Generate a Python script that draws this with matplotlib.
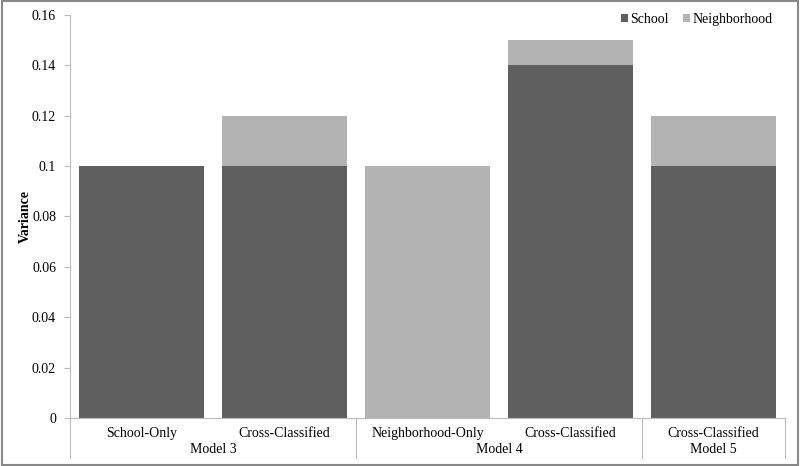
import matplotlib
matplotlib.use("Agg")
import matplotlib.pyplot as plt
from matplotlib.patches import Rectangle
from matplotlib.lines import Line2D

categories = ["School-Only", "Cross-Classified", "Neighborhood-Only", "Cross-Classified", "Cross-Classified"]
groups = ["Model 3", "Model 4", "Model 5"]
group_sizes = [2, 2, 1]
school = [0.10, 0.10, 0.0, 0.14, 0.10]
neighborhood = [0.0, 0.02, 0.10, 0.01, 0.02]
yticks = [0, 0.02, 0.04, 0.06, 0.08, 0.1, 0.12, 0.14, 0.16]
ytick_labels = ["0", "0.02", "0.04", "0.06", "0.08", "0.1", "0.12", "0.14", "0.16"]

dark = "#5f5f5f"
light = "#b3b3b3"
plt.rcParams['font.family'] = ['Liberation Serif', 'DejaVu Serif']

fig = plt.figure(figsize=(8, 4.66), dpi=100)
ax = fig.add_axes([0.0875, 0.103, 0.894, 0.865])
x = list(range(len(categories)))
ax.bar(x, school, width=0.87, color=dark, label="School")
ax.bar(x, neighborhood, width=0.87, bottom=school, color=light, label="Neighborhood")
ax.set_xlim(-0.5, len(categories) - 0.5)
ax.set_ylim(0, 0.16)
ax.set_yticks(yticks)
ax.set_yticklabels(ytick_labels, fontsize=10)
ax.tick_params(axis='y', length=4, color="#bbbbbb", direction='out', pad=6)
ax.set_xticks([])
for s in ["top", "right"]:
    ax.spines[s].set_visible(False)
ax.spines["left"].set_color("#bbbbbb")
ax.spines["bottom"].set_color("#bbbbbb")
ax.set_ylabel("Variance", fontsize=10, fontweight="bold")
ax.yaxis.set_label_coords(-0.053, 0.5)

trans = ax.get_xaxis_transform()
for i, c in enumerate(categories):
    ax.text(i, -0.038, c, transform=trans, ha="center", va="center", fontsize=10)
start = 0
bounds = [-0.5]
for g, n in zip(groups, group_sizes):
    center = start + (n - 1) / 2
    ax.text(center, -0.078, g, transform=trans, ha="center", va="center", fontsize=10)
    start += n
    bounds.append(start - 0.5)
for b in bounds:
    ax.add_line(Line2D([b, b], [0, -0.099], transform=trans, color="#bbbbbb", lw=0.8, clip_on=False))

leg = ax.legend(loc="upper right", bbox_to_anchor=(1.0, 1.035), ncol=2, frameon=False, fontsize=10,
                handlelength=0.5, handleheight=0.5, handletextpad=0.2, columnspacing=1.0)

fig.patches.append(Rectangle((0.002, 0.003), 0.996, 0.994, transform=fig.transFigure,
                             fill=False, edgecolor="#888888", lw=1.5))
fig.savefig("out.png", dpi=100)
